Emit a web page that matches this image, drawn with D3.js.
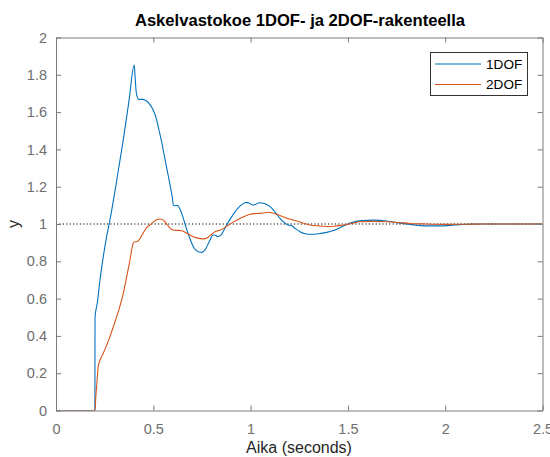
<!DOCTYPE html>
<html>
<head>
<meta charset="utf-8">
<script src="https://cdn.jsdelivr.net/npm/d3@7"></script>
<style>
  html, body { margin: 0; padding: 0; background: #fff; }
  svg { display: block; font-family: "Liberation Sans", Arial, Helvetica, sans-serif; }
</style>
</head>
<body>
<svg id="chart" width="550" height="457"></svg>
<script>
// ---- data ----
const titleText = "Askelvastokoe 1DOF- ja 2DOF-rakenteella";
const xLabelText = "Aika (seconds)";
const yLabelText = "y";
const seriesNames = ["1DOF", "2DOF"];
const xTicks = [0, 0.5, 1, 1.5, 2, 2.5];
const xTickLabels = ["0", "0.5", "1", "1.5", "2", "2.5"];
const yTicks = [0, 0.2, 0.4, 0.6, 0.8, 1, 1.2, 1.4, 1.6, 1.8, 2];
const yTickLabels = ["0", "0.2", "0.4", "0.6", "0.8", "1", "1.2", "1.4", "1.6", "1.8", "2"];
const referenceLevel = 1;

const time1DOF = [0, 0.2, 0.2005, 0.212, 0.226, 0.243, 0.26, 0.277, 0.31, 0.346, 0.375, 0.402, 0.407, 0.413, 0.425, 0.445, 0.457, 0.483, 0.50, 0.517, 0.53, 0.543, 0.556, 0.569, 0.586, 0.598, 0.603, 0.613, 0.623, 0.646, 0.663, 0.685, 0.71, 0.735, 0.749, 0.765, 0.785, 0.808, 0.82, 0.829, 0.85, 0.88, 0.91, 0.94, 0.96, 0.98, 0.995, 1.01, 1.025, 1.045, 1.07, 1.10, 1.125, 1.151, 1.17, 1.185, 1.2, 1.211, 1.23, 1.254, 1.28, 1.314, 1.35, 1.39, 1.417, 1.44, 1.468, 1.5, 1.528, 1.57, 1.63, 1.7, 1.76, 1.82, 1.9, 1.98, 2.05, 2.15, 2.3, 2.5];
const values1DOF = [0, 0, 0.50, 0.575, 0.70, 0.825, 0.932, 1.02, 1.22, 1.454, 1.66, 1.852, 1.78, 1.70, 1.668, 1.668, 1.665, 1.64, 1.61, 1.56, 1.50, 1.44, 1.37, 1.30, 1.21, 1.14, 1.10, 1.098, 1.10, 1.057, 1.0, 0.93, 0.87, 0.85, 0.848, 0.86, 0.90, 0.941, 0.94, 0.932, 0.945, 1.0, 1.05, 1.09, 1.108, 1.116, 1.11, 1.102, 1.105, 1.114, 1.11, 1.093, 1.065, 1.03, 1.01, 0.998, 0.993, 0.99, 0.975, 0.959, 0.948, 0.945, 0.948, 0.955, 0.962, 0.97, 0.985, 1.0, 1.01, 1.018, 1.021, 1.016, 1.006, 0.998, 0.99, 0.99, 0.995, 1.0, 1.0, 1.0];

const time2DOF = [0, 0.2, 0.205, 0.209, 0.217, 0.23, 0.243, 0.26, 0.277, 0.295, 0.312, 0.33, 0.346, 0.363, 0.38, 0.397, 0.405, 0.415, 0.425, 0.432, 0.45, 0.465, 0.483, 0.50, 0.515, 0.534, 0.55, 0.565, 0.58, 0.595, 0.603, 0.615, 0.63, 0.646, 0.665, 0.69, 0.72, 0.757, 0.78, 0.80, 0.817, 0.835, 0.851, 0.88, 0.91, 0.946, 0.97, 0.997, 1.03, 1.06, 1.09, 1.108, 1.14, 1.17, 1.2, 1.25, 1.305, 1.35, 1.39, 1.43, 1.476, 1.52, 1.562, 1.63, 1.70, 1.76, 1.82, 1.9, 2.0, 2.1, 2.2, 2.35, 2.5];
const values2DOF = [0, 0, 0.08, 0.13, 0.236, 0.28, 0.307, 0.35, 0.396, 0.45, 0.503, 0.565, 0.629, 0.715, 0.807, 0.897, 0.905, 0.905, 0.912, 0.923, 0.955, 0.98, 0.995, 1.01, 1.022, 1.027, 1.022, 1.005, 0.985, 0.97, 0.968, 0.966, 0.966, 0.964, 0.955, 0.94, 0.927, 0.92, 0.928, 0.945, 0.959, 0.965, 0.971, 0.99, 1.01, 1.03, 1.042, 1.052, 1.056, 1.058, 1.063, 1.06, 1.05, 1.038, 1.027, 1.012, 0.995, 0.99, 0.987, 0.988, 0.995, 1.003, 1.012, 1.014, 1.012, 1.008, 1.003, 1.0, 0.998, 0.999, 1.0, 1.0, 1.0];

const seriesColors = ["#0072BD", "#D95319"];

// ---- layout ----
const W = 550, H = 457;
const margin = { left: 56, right: 7.5, top: 37.5, bottom: 46.5 };
const pw = W - margin.left - margin.right;
const ph = H - margin.top - margin.bottom;
const axisColor = "#7a7a7a";
const tickTextColor = "#6e6e6e";

const svg = d3.select("#chart");
const g = svg.append("g").attr("transform", `translate(${margin.left},${margin.top})`);

const x = d3.scaleLinear().domain([0, 2.5]).range([0, pw]);
const y = d3.scaleLinear().domain([0, 2]).range([ph, 0]);

const series = [
  { name: seriesNames[0], color: seriesColors[0], pts: time1DOF.map((t, i) => [t, values1DOF[i]]) },
  { name: seriesNames[1], color: seriesColors[1], pts: time2DOF.map((t, i) => [t, values2DOF[i]]) }
];

// clip
svg.append("defs").append("clipPath").attr("id", "clip")
  .append("rect").attr("x", 0).attr("y", 0).attr("width", pw).attr("height", ph);

// reference line
g.append("line")
  .attr("x1", x(0)).attr("x2", x(2.5))
  .attr("y1", y(referenceLevel)).attr("y2", y(referenceLevel))
  .attr("stroke", "#000").attr("stroke-width", 1.1)
  .attr("stroke-dasharray", "1.2,2.2");

// lines
const line = d3.line().x(d => x(d[0])).y(d => y(d[1])).curve(d3.curveMonotoneX);
const plot = g.append("g").attr("clip-path", "url(#clip)");
series.forEach(s => {
  plot.append("path").datum(s.pts)
    .attr("d", line).attr("fill", "none")
    .attr("stroke", s.color).attr("stroke-width", 1.1)
    .attr("stroke-linejoin", "round");
});

// axes (ticks inward)
const tickLen = 5;
const xAxisB = d3.axisBottom(x).tickValues(xTicks).tickSizeInner(-tickLen).tickSizeOuter(0)
  .tickPadding(13).tickFormat((d, i) => xTickLabels[i]);
const xAxisT = d3.axisTop(x).tickValues(xTicks).tickSizeInner(-tickLen).tickSizeOuter(0).tickFormat("");
const yAxisL = d3.axisLeft(y).tickValues(yTicks).tickSizeInner(-tickLen).tickSizeOuter(0)
  .tickPadding(9).tickFormat((d, i) => yTickLabels[i]);
const yAxisR = d3.axisRight(y).tickValues(yTicks).tickSizeInner(-tickLen).tickSizeOuter(0).tickFormat("");

function styleAxis(sel) {
  sel.selectAll("path").attr("stroke", axisColor).attr("stroke-width", 1);
  sel.selectAll("line").attr("stroke", axisColor).attr("stroke-width", 1);
  sel.selectAll("text").attr("fill", tickTextColor).attr("font-size", 14.5)
    .attr("font-family", "'Liberation Sans', Arial, sans-serif");
}
g.append("g").attr("transform", `translate(0,${ph})`).call(xAxisB).call(styleAxis);
g.append("g").call(xAxisT).call(styleAxis);
g.append("g").call(yAxisL).call(styleAxis);
g.append("g").attr("transform", `translate(${pw},0)`).call(yAxisR).call(styleAxis);

// title & labels
svg.append("text").attr("x", 300).attr("y", 25.5)
  .attr("text-anchor", "middle").attr("font-weight", "bold").attr("font-size", 16.6)
  .attr("fill", "#000").text(titleText);
svg.append("text").attr("x", 299).attr("y", 453)
  .attr("text-anchor", "middle").attr("font-size", 16)
  .attr("fill", "#262626").text(xLabelText);
svg.append("text").attr("transform", `translate(19,${margin.top + y(1)}) rotate(-90)`)
  .attr("text-anchor", "middle").attr("font-size", 16)
  .attr("fill", "#262626").text(yLabelText);

// legend
const lg = svg.append("g").attr("transform", "translate(430.5,52.5)");
lg.append("rect").attr("width", 97).attr("height", 43)
  .attr("fill", "#fff").attr("stroke", "#333").attr("stroke-width", 1);
series.forEach((s, i) => {
  const yy = 11.5 + i * 20.5;
  lg.append("line").attr("x1", 4.5).attr("x2", 50.5).attr("y1", yy).attr("y2", yy)
    .attr("stroke", s.color).attr("stroke-width", 1.1);
  lg.append("text").attr("x", 55.5).attr("y", yy).attr("dy", "0.35em")
    .attr("font-size", 13.6).attr("fill", "#000").text(s.name);
});
</script>
</body>
</html>
